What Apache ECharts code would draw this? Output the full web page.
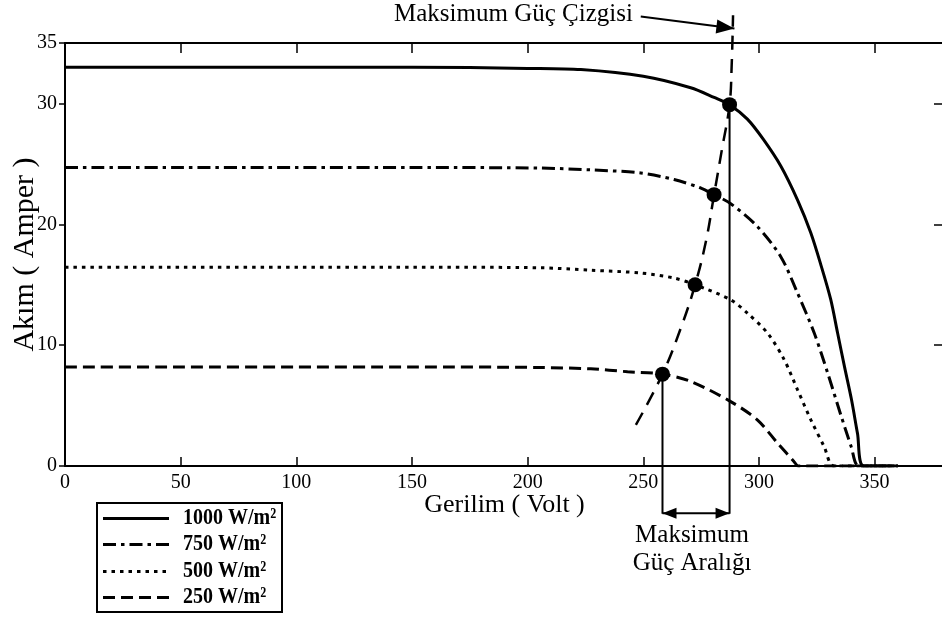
<!DOCTYPE html>
<html>
<head>
<meta charset="utf-8">
<script src="https://cdn.jsdelivr.net/npm/echarts@6/dist/echarts.min.js"></script>
<style>
  html, body { margin: 0; padding: 0; background: #fff; }
  #chart { width: 942px; height: 617px; }
</style>
</head>
<body>
<div id="chart"></div>
<script>
// I-V egrileri (Gerilim V, Akim A), dort isinim seviyesi
var irradiance = ['1000 W/m²', '750 W/m²', '500 W/m²', '250 W/m²'];

var v1000 = [0, 50, 100, 150, 200, 223, 250, 270.5, 280.6, 287.3, 295, 302, 309.5, 316.7, 322.4, 327, 331, 334, 337, 340, 342.6, 345.3, 360];
var i1000 = [33.0, 33.0, 33.0, 33.0, 32.9, 32.8, 32.25, 31.3, 30.5, 29.9, 28.7, 27.0, 24.8, 22.0, 19.3, 16.5, 13.8, 11.0, 8.2, 5.5, 2.7, 0, 0];

var v750 = [0, 50, 100, 150, 205.7, 227.3, 248.9, 263.3, 274.9, 280.6, 287.8, 299.4, 309.5, 316.7, 323.9, 329.7, 335.6, 339.9, 343.2, 360];
var i750 = [24.7, 24.7, 24.7, 24.7, 24.65, 24.5, 24.25, 23.7, 23.0, 22.45, 21.7, 19.8, 17.3, 14.3, 11.0, 7.7, 4.1, 1.6, 0, 0];

var v500 = [0, 50, 100, 150, 205.7, 227.3, 248.9, 263.3, 272.4, 287.8, 295, 303.7, 310.9, 316.7, 322.5, 328.2, 332.5, 360];
var i500 = [16.45, 16.45, 16.45, 16.45, 16.4, 16.2, 15.97, 15.55, 15.0, 13.75, 12.65, 11.0, 8.8, 6.3, 3.8, 1.6, 0, 0];

var v250 = [0, 50, 100, 150, 205.7, 227.3, 243.2, 258.3, 270.5, 287.8, 299.4, 308, 315.2, 317, 360];
var i250 = [8.2, 8.2, 8.2, 8.2, 8.15, 8.04, 7.8, 7.6, 7.0, 5.33, 3.8, 1.9, 0.36, 0, 0];

// maksimum guc cizgisi
var vMpp = [246.8, 258.3, 266.2, 272.4, 277.2, 280.6, 284.0, 287.3, 288.2, 288.8];
var iMpp = [3.4, 7.6, 11.4, 15.0, 18.7, 22.45, 26.2, 29.9, 33.1, 37.3];

// maksimum guc noktalari (250, 500, 750, 1000)
var mppV = [258.3, 272.4, 280.6, 287.3];
var mppI = [7.6, 15.0, 22.45, 29.9];

// aciklama oklari (eksen birimleri)
var rangeFloor = -3.95;
var rangeArrowLevel = -3.9;
var labelArrowFrom = [248.9, 37.2];
var labelArrowTip = [289.4, 36.2];

var xMax = 380, xStep = 50;
var yMax = 35, yStep = 10;

var chart = echarts.init(document.getElementById('chart'));
var serif = '"Liberation Serif", "Times New Roman", serif';
var dashTypes = ['solid', [13, 5, 3.5, 5], [3.5, 5], [12, 6]];

function zip(xs, ys) {
  return xs.map(function (x, k) { return [x, ys[k]]; });
}

function curve(name, data, type) {
  return {
    name: name, type: 'line', data: data, symbol: 'none', showSymbol: false,
    smooth: 0.3, silent: true, z: 3,
    lineStyle: { color: '#000', width: 3, type: type }
  };
}

function plainLine(data, width, type) {
  return {
    type: 'line', data: data, symbol: 'none', showSymbol: false, clip: false,
    silent: true, z: 4,
    lineStyle: { color: '#000', width: width, type: type || 'solid' }
  };
}

function frameAxis(extra) {
  var base = {
    type: 'value', splitLine: { show: false },
    axisLine: { show: true, onZero: false, lineStyle: { color: '#000', width: 2 } }
  };
  return Object.assign(base, extra);
}

var legendRows = [518.5, 544.5, 571.5, 597.5];
var legendItems = [{
  type: 'rect', shape: { x: 97, y: 503, width: 185, height: 109 },
  style: { fill: '#fff', stroke: '#000', lineWidth: 2 }
}];
irradiance.forEach(function (name, k) {
  var dash = dashTypes[k] === 'solid' ? null : dashTypes[k];
  legendItems.push({
    type: 'line', shape: { x1: 103, y1: legendRows[k], x2: 169, y2: legendRows[k] },
    style: { stroke: '#000', lineWidth: 3, lineDash: dash }
  });
  legendItems.push({
    type: 'text', x: 183, y: legendRows[k], scaleY: 1.15,
    style: { text: name, fontFamily: serif, fontWeight: 'bold', fontSize: 20, fill: '#000', verticalAlign: 'middle' }
  });
});

chart.setOption({
  backgroundColor: '#fff',
  animation: false,
  grid: { left: 65, right: -2, top: 43, bottom: 151, containLabel: false, outerBoundsMode: 'none' },
  xAxis: [frameAxis({
    position: 'bottom', min: 0, max: xMax, interval: xStep,
    name: 'Gerilim ( Volt )', nameLocation: 'middle', nameGap: 26, nameMoveOverlap: false,
    nameTextStyle: { fontFamily: serif, fontSize: 26, color: '#000' },
    axisTick: { show: true, inside: true, length: 9, lineStyle: { color: '#000', width: 1.5 } },
    axisLabel: { margin: 7, showMaxLabel: false, fontFamily: serif, fontSize: 20, color: '#000' }
  }), frameAxis({
    position: 'top', min: 0, max: xMax, interval: xStep,
    axisTick: { show: true, inside: true, length: 10, lineStyle: { color: '#000', width: 1.5 } },
    axisLabel: { show: false }
  })],
  yAxis: [frameAxis({
    position: 'left', min: 0, max: yMax, interval: yStep,
    name: 'Akım ( Amper )', nameLocation: 'middle', nameGap: 25, nameRotate: 90, nameMoveOverlap: false,
    nameTextStyle: { fontFamily: serif, fontSize: 30, color: '#000' },
    axisTick: { show: true, inside: false, length: 6, lineStyle: { color: '#000', width: 1.5 } },
    axisLabel: { margin: 8, fontFamily: serif, fontSize: 20, color: '#000' }
  }), frameAxis({
    position: 'right', min: 0, max: yMax, interval: yStep,
    axisTick: { show: true, inside: true, length: 10, lineStyle: { color: '#000', width: 1.5 } },
    axisLabel: { show: false }
  })],
  series: [
    curve(irradiance[0], zip(v1000, i1000), dashTypes[0]),
    curve(irradiance[1], zip(v750, i750), dashTypes[1]),
    curve(irradiance[2], zip(v500, i500), dashTypes[2]),
    curve(irradiance[3], zip(v250, i250), dashTypes[3]),
    // maksimum guc cizgisi
    {
      type: 'line', data: zip(vMpp, iMpp), symbol: 'none', showSymbol: false,
      smooth: 0.4, clip: false, silent: true, z: 4,
      lineStyle: { color: '#000', width: 2.5, type: [14, 9] }
    },
    // aralik sinir cizgileri
    plainLine([[mppV[0], mppI[0]], [mppV[0], rangeFloor]], 2),
    plainLine([[mppV[3], mppI[3]], [mppV[3], rangeFloor]], 2),
    // cift yonlu ok
    {
      type: 'line', clip: false, silent: true, z: 4,
      symbol: 'triangle', symbolSize: [11, 14], showSymbol: true,
      itemStyle: { color: '#000' },
      lineStyle: { color: '#000', width: 2 },
      data: [
        { value: [mppV[0], rangeArrowLevel], symbolRotate: 90, symbolOffset: [7, 0] },
        { value: [mppV[3], rangeArrowLevel], symbolRotate: -90, symbolOffset: [-7, 0] }
      ]
    },
    // baslik oku
    {
      type: 'line', clip: false, silent: true, z: 4,
      showSymbol: true, itemStyle: { color: '#000' },
      lineStyle: { color: '#000', width: 2 },
      data: [
        { value: labelArrowFrom, symbol: 'none' },
        { value: labelArrowTip, symbol: 'triangle', symbolSize: [14, 18], symbolRotate: -96.7, symbolOffset: [-9, -1] }
      ]
    },
    // maksimum guc noktalari
    {
      type: 'scatter', data: zip(mppV, mppI), symbol: 'circle', symbolSize: 15,
      silent: true, z: 6, itemStyle: { color: '#000', opacity: 1 }
    }
  ],
  graphic: [
    {
      type: 'text', x: 394, y: 0,
      style: { text: 'Maksimum Güç Çizgisi', fontFamily: serif, fontSize: 25, fill: '#000', lineHeight: 28, verticalAlign: 'top' }
    },
    {
      type: 'text', x: 692, y: 521,
      style: { text: 'Maksimum\nGüç Aralığı', fontFamily: serif, fontSize: 25, fill: '#000', lineHeight: 28, align: 'center', verticalAlign: 'top' }
    },
    { type: 'group', children: legendItems, z: 10 }
  ]
});
</script>
</body>
</html>
